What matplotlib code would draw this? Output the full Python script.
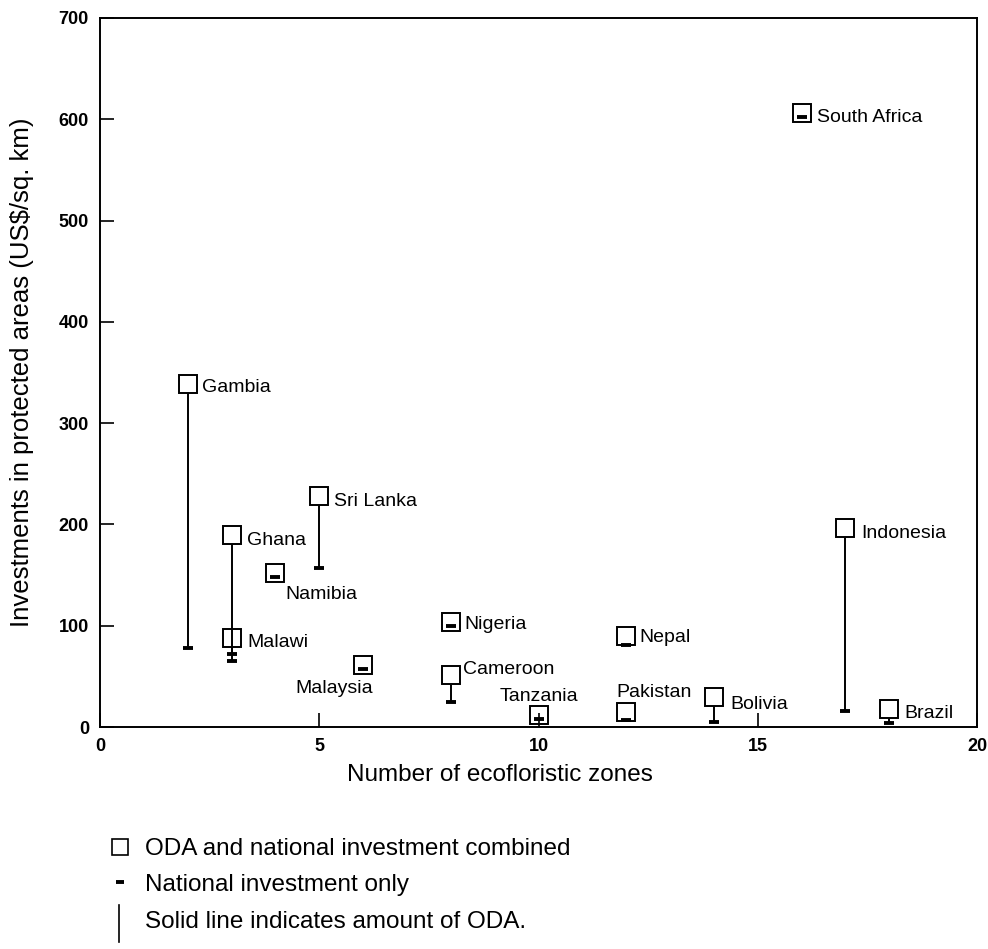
import matplotlib
matplotlib.use("Agg")
import matplotlib.pyplot as plt
from matplotlib.lines import Line2D

plt.rcParams['font.family'] = ['Liberation Sans', 'DejaVu Sans']

# ---- data ----
countries = ["Gambia", "Ghana", "Malawi", "Namibia", "Sri Lanka", "Malaysia",
             "Nigeria", "Cameroon", "Tanzania", "Nepal", "Pakistan", "Bolivia",
             "South Africa", "Indonesia", "Brazil"]
zones = [2, 3, 3, 4, 5, 6, 8, 8, 10, 12, 12, 14, 16, 17, 18]
combined = [339, 190, 88, 152, 228, 61, 104, 51, 12, 90, 15, 30, 606, 196, 18]
national = [78, 72, 65, 148, 157, 57, 100, 25, 8, 81, 7, 5, 602, 16, 4]

x_ticks = [0, 5, 10, 15, 20]
y_ticks = [0, 100, 200, 300, 400, 500, 600, 700]

# label placement: (dx px, dy px, ha)
label_pos = {
    "Gambia": (14, -4, "left"), "Ghana": (15, -6, "left"),
    "Malawi": (16, -5, "left"), "Namibia": (10, -21, "left"),
    "Sri Lanka": (15, -5, "left"), "Malaysia": (10, -23, "right"),
    "Nigeria": (14, -3, "left"), "Cameroon": (12, 6, "left"),
    "Tanzania": (0, 18, "center"), "Nepal": (13, -2, "left"),
    "Pakistan": (-10, 19, "left"), "Bolivia": (16, -8, "left"),
    "South Africa": (15, -4, "left"), "Indonesia": (16, -5, "left"),
    "Brazil": (15, -5, "left"),
}

W, H = 988, 949
fig = plt.figure(figsize=(W / 100, H / 100), dpi=100)
ax_h_px = 709
ax = fig.add_axes([100 / W, 1 - 727 / H, 877 / W, ax_h_px / H])
ax.set_xlim(0, 20)
ax.set_ylim(0, 700)

box_ms = 13.5
half_box = (box_ms / 72 * 100 / 2) * 700 / ax_h_px  # half box height in data units

# ODA lines (national -> bottom of combined box)
tops = [max(n, c - half_box) for n, c in zip(national, combined)]
ax.vlines(zones, national, tops, color="black", lw=1.4, zorder=1)
# national only dashes
ax.plot(zones, national, ls="none", marker="_", ms=7, mew=2.8, color="black", zorder=2)
# combined boxes
ax.plot(zones, combined, ls="none", marker="s", ms=box_ms, mfc="none", mec="black",
        mew=1.4, zorder=3)

for c, x, y in zip(countries, zones, combined):
    dx, dy, ha = label_pos[c]
    ax.annotate(c, (x, y), xytext=(dx, dy), textcoords="offset pixels",
                ha=ha, va="center", fontsize=14)

ax.set_xticks(x_ticks)
ax.set_yticks(y_ticks)
ax.tick_params(direction="in", length=10, width=1.2, labelsize=13, pad=8)
for lab in ax.get_xticklabels() + ax.get_yticklabels():
    lab.set_fontweight("bold")
for s in ax.spines.values():
    s.set_linewidth(1.4)

ax.set_xlabel("Number of ecofloristic zones", fontsize=17.5, va="center")
ax.xaxis.set_label_coords((500 - 100) / 877, -(775 - 727) / ax_h_px)
ax.set_ylabel("Investments in protected areas (US$/sq. km)", fontsize=18.5, va="center")
ax.yaxis.set_label_coords(-(100 - 22) / 877, 0.5)

# legend beneath the chart
def fx(px):
    return px / W

def fy(py):
    return 1 - py / H

fig.add_artist(Line2D([fx(120)], [fy(847)], marker="s", ms=11, mfc="none", mec="black",
                      mew=1.2, ls="none"))
fig.text(fx(145), fy(849), "ODA and national investment combined", fontsize=17.5, va="center")
fig.add_artist(Line2D([fx(120)], [fy(882)], marker="_", ms=6, mew=2.8, color="black",
                      ls="none"))
fig.text(fx(145), fy(885), "National investment only", fontsize=17.5, va="center")
fig.add_artist(Line2D([fx(119), fx(119)], [fy(905), fy(942)], color="black", lw=1.2))
fig.text(fx(145), fy(922), "Solid line indicates amount of ODA.", fontsize=17.5, va="center")

fig.savefig("out.png", dpi=100)
